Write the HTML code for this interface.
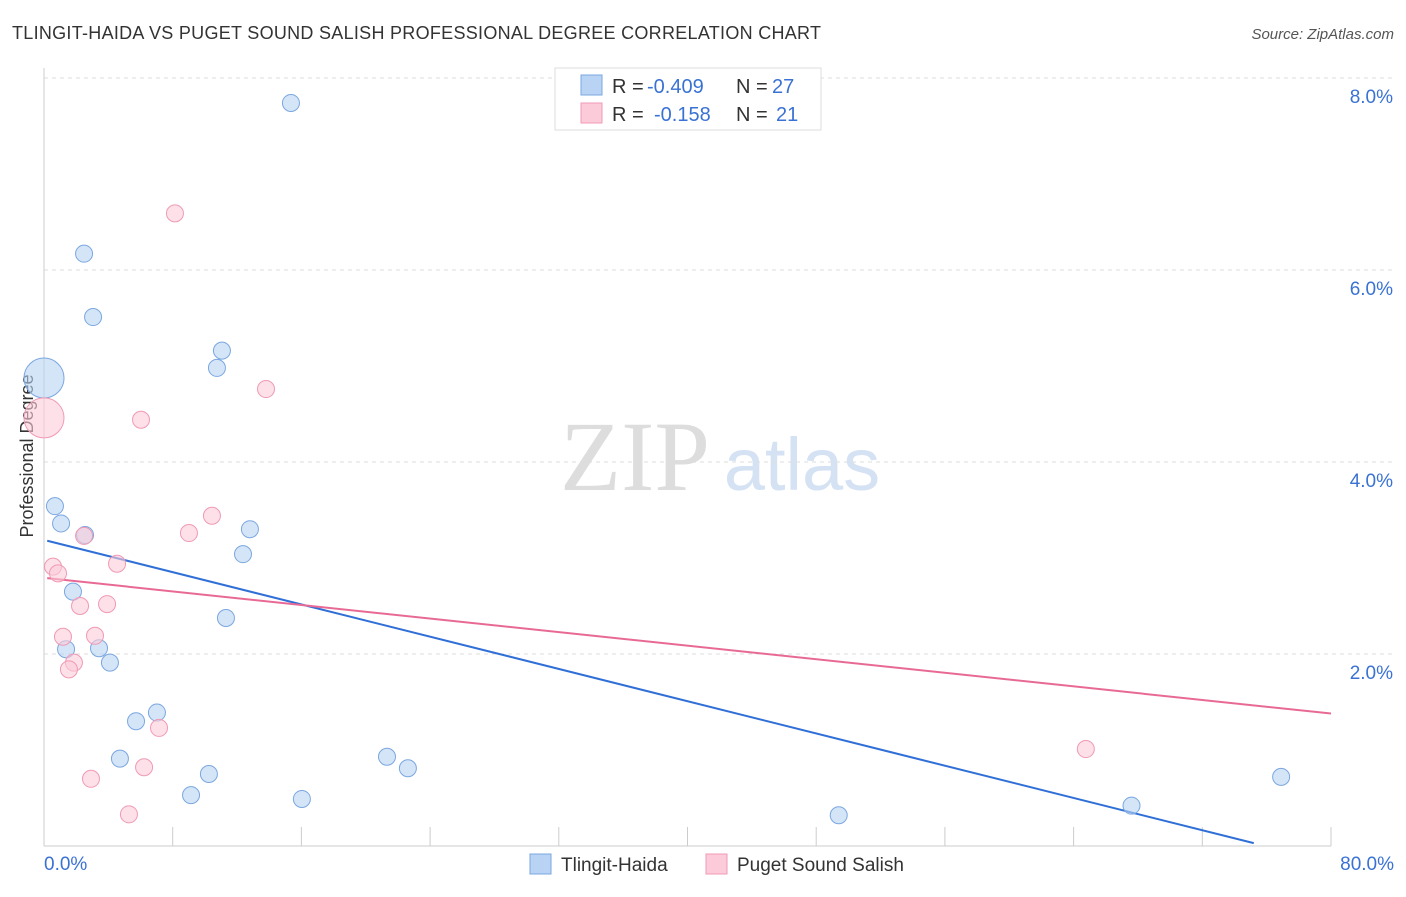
<!DOCTYPE html>
<html><head><meta charset="utf-8"><style>
body{margin:0;background:#fff;font-family:"Liberation Sans",sans-serif;}
</style></head><body>
<svg id="c" width="1406" height="892" xmlns="http://www.w3.org/2000/svg" font-family="Liberation Sans, sans-serif">
<text x="12" y="39" font-size="18" fill="#333" textLength="809">TLINGIT-HAIDA VS PUGET SOUND SALISH PROFESSIONAL DEGREE CORRELATION CHART</text>
<text x="1394" y="39" font-size="15" fill="#555" font-style="italic" text-anchor="end">Source: ZipAtlas.com</text>
<text x="33" y="456" font-size="18" fill="#333" text-anchor="middle" transform="rotate(-90 33 456)">Professional Degree</text>
<g><text x="635" y="490" font-size="100" fill="#ddd" font-family="Liberation Serif, serif" text-anchor="middle">ZIP</text><text x="802" y="490" font-size="74" fill="#d4e2f4" text-anchor="middle">atlas</text></g>
<g id="grid"></g><g id="axes"></g><g id="lines"></g><g id="pts"></g>
<g>
<rect x="555" y="68" width="266" height="62" fill="#fff" stroke="#ddd"/>
<rect x="581" y="75" width="21" height="20" fill="#b9d3f4" stroke="#7aa7e0"/>
<rect x="581" y="103" width="21" height="20" fill="#fbcbd9" stroke="#f09ab4"/>
<text x="612" y="93" font-size="20" fill="#333">R =</text>
<text x="647" y="93" font-size="20" fill="#3a72d4">-0.409</text>
<text x="736" y="93" font-size="20" fill="#333">N =</text>
<text x="772" y="93" font-size="20" fill="#3a72d4">27</text>
<text x="612" y="121" font-size="20" fill="#333">R =</text>
<text x="654" y="121" font-size="20" fill="#3a72d4">-0.158</text>
<text x="736" y="121" font-size="20" fill="#333">N =</text>
<text x="776" y="121" font-size="20" fill="#3a72d4">21</text>
</g>
<g>
<rect x="530" y="854" width="21" height="20" fill="#b9d3f4" stroke="#7aa7e0"/>
<text x="561" y="871" font-size="19" fill="#333">Tlingit-Haida</text>
<rect x="706" y="854" width="21" height="20" fill="#fbcbd9" stroke="#f09ab4"/>
<text x="737" y="871" font-size="19" fill="#333">Puget Sound Salish</text>
</g>
</svg>
<script>
const yTicks=[2,4,6,8];
const xTickLabels=["0.0%","80.0%"];
const blueX=[15.35,2.49,3.05,11.06,10.75,0,0.68,1.06,2.55,12.8,12.37,1.8,11.31,1.37,3.42,4.1,5.72,7.02,4.72,10.25,9.14,16.03,21.32,22.62,49.4,67.6,76.9];
const blueY=[7.74,6.17,5.51,5.16,4.98,4.875,3.54,3.36,3.24,3.30,3.04,2.65,2.375,2.05,2.06,1.91,1.30,1.39,0.91,0.75,0.53,0.49,0.93,0.81,0.32,0.42,0.72];
const pinkX=[8.14,0,6.03,13.8,10.44,9.01,0.56,0.87,4.54,2.24,3.92,1.18,3.17,1.86,1.55,7.15,6.22,2.92,5.28,64.76,2.49];
const pinkY=[6.59,4.46,4.44,4.76,3.44,3.26,2.91,2.84,2.94,2.5,2.52,2.18,2.19,1.91,1.84,1.23,0.82,0.70,0.33,1.01,3.23];
const blueTrend=[0.2,3.18,75.2,0.03];
const pinkTrend=[0.2,2.79,80,1.38];
const NS="http://www.w3.org/2000/svg";
const X=v=>44+v*(1287/80), Y=v=>846-v*96;
function mk(t,a,p){const e=document.createElementNS(NS,t);for(const k in a)e.setAttribute(k,a[k]);document.getElementById(p).appendChild(e);return e;}
yTicks.forEach(t=>{
 const l=mk('line',{x1:44,x2:1394,y1:Y(t),y2:Y(t),stroke:'#ddd','stroke-dasharray':'4 4'},'grid');
 
 
 const tx=mk('text',{x:1393,y:Y(t)+25,'font-size':19,fill:'#3a72d4','text-anchor':'end'},'grid');tx.textContent=t.toFixed(1)+'%';
 
 
});
const ax=mk('line',{x1:44,x2:1331,y1:846,y2:846,stroke:'#ccc'},'axes');


const ay=mk('line',{x1:44,x2:44,y1:68,y2:846,stroke:'#ccc'},'axes');


for(let i=0;i<=10;i++){const t=mk('line',{x1:X(i*8),x2:X(i*8),y1:827,y2:846,stroke:'#ccc'},'axes');
 
 }
[[0,'start',44],[80,'end',1394]].forEach((d,i)=>{const t=mk('text',{x:d[2],y:870,'font-size':19,fill:'#3a72d4','text-anchor':d[1]},'axes');t.textContent=xTickLabels[i];
 
 });
[[blueTrend,'#2f6fd6','blue-trend-line'],[pinkTrend,'#e86a94','pink-trend-line']].forEach(d=>{
 const l=mk('line',{x1:X(d[0][0]),y1:Y(d[0][1]),x2:X(d[0][2]),y2:Y(d[0][3]),stroke:d[1],'stroke-width':2},'lines');
 
 
});
function pts(xs,ys,f,s,name){xs.forEach((x,i)=>{const r=x===0?20:8.5;
 const c=mk('circle',{cx:X(x),cy:Y(ys[i]),r:r,fill:f,stroke:s,'stroke-width':1,'fill-opacity':0.6},'pts');
 
 });}
pts(blueX,blueY,'#b9d3f4','#7aa7e0','tlingit-haida-point');
pts(pinkX,pinkY,'#fbcbd9','#f09ab4','puget-sound-salish-point');
</script>
</body></html>
